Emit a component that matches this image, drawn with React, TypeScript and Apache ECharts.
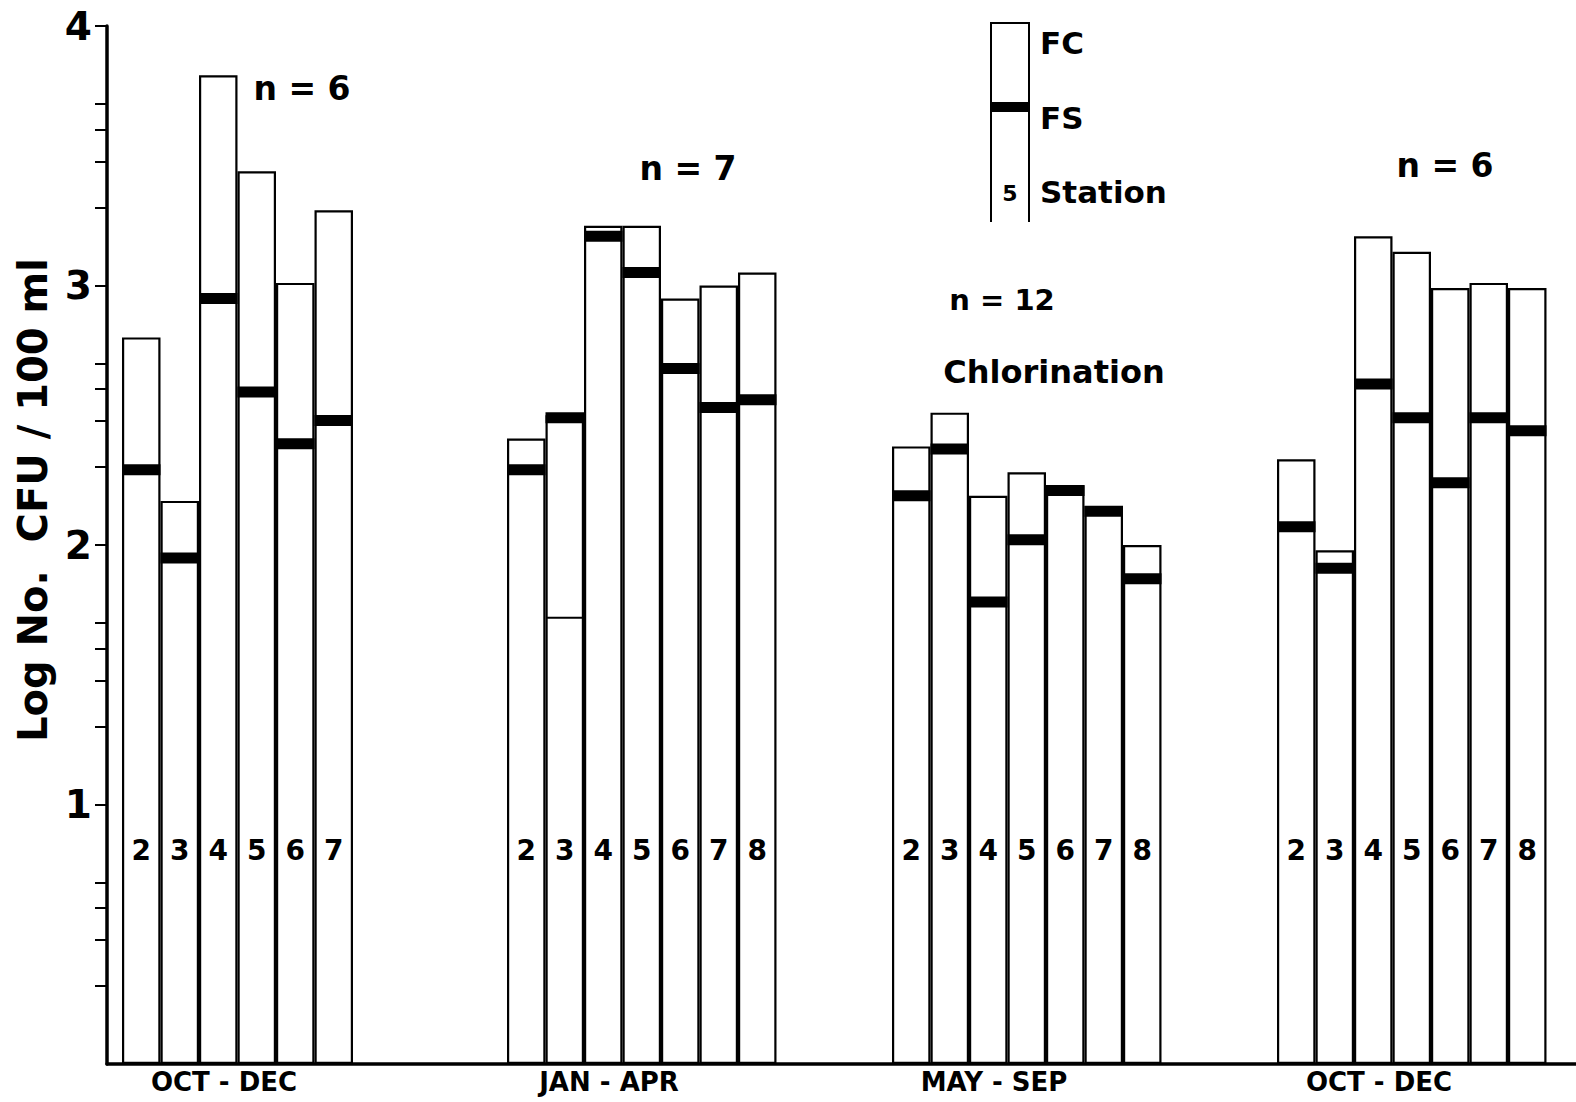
import React, { useEffect, useRef } from "react";
import * as echarts from "echarts";

// ---- data ----
const seasons = ["OCT - DEC", "JAN - APR", "MAY - SEP", "OCT - DEC"];
const stations = [
  ["2", "3", "4", "5", "6", "7"],
  ["2", "3", "4", "5", "6", "7", "8"],
  ["2", "3", "4", "5", "6", "7", "8"],
  ["2", "3", "4", "5", "6", "7", "8"],
];
// log10 FC (top of bar)
const fcValues = [
  [2.8, 2.17, 3.81, 3.44, 3.01, 3.29],
  [2.41, 2.5, 3.23, 3.23, 2.95, 3.0, 3.05],
  [2.38, 2.51, 2.19, 2.28, 2.23, 2.15, 2.0],
  [2.33, 1.98, 3.19, 3.13, 2.99, 3.01, 2.99],
];
// log10 FS (thick black line)
const fsValues = [
  [2.29, 1.95, 2.95, 2.59, 2.39, 2.48],
  [2.29, 2.49, 3.19, 3.05, 2.68, 2.53, 2.56],
  [2.19, 2.37, 1.78, 2.02, 2.21, 2.13, 1.87],
  [2.07, 1.91, 2.62, 2.49, 2.24, 2.49, 2.44],
];
// extra thin mark (season index, station, value)
const thinMarks: [number, string, number][] = [[1, "3", 1.72]];
const yTickLabels = [1, 2, 3, 4];
const minorFactors = [2, 3, 4, 5];
const nLabels = ["n = 6", "n = 7", "n = 12", "n = 6"];

const SLOTS_PER_GROUP = 10;
const FIRST_STATION = 2;
const FONT = "DejaVu Sans";

function slotX(g: number, st: string) {
  return g * SLOTS_PER_GROUP + (parseInt(st, 10) - FIRST_STATION) + 0.5;
}

export default function App() {
  const ref = useRef<HTMLDivElement>(null);
  useEffect(() => {
    if (!ref.current) return;
    const chart = echarts.init(ref.current, null, { renderer: "svg" });

    const barData: any[] = [];
    const fsData: any[] = [];
    seasons.forEach((_, g) => {
      stations[g].forEach((st, i) => {
        barData.push([slotX(g, st), fcValues[g][i], st]);
        fsData.push([slotX(g, st), fsValues[g][i]]);
      });
    });
    const thinData = thinMarks.map(([g, st, v]) => [slotX(g, st), v]);

    const tickValues: number[] = [];
    for (let d = 0; d < 4; d++) {
      minorFactors.forEach((f) => tickValues.push(d + Math.log10(f)));
      tickValues.push(d + 1);
    }
    const seasonPos = seasons.map((_, g) => g * SLOTS_PER_GROUP + 2.65);

    const slotPx = 38.5;
    const gridLeft = 107;
    const gridW = 1576 - gridLeft;
    const xMin = -(122 - gridLeft) / slotPx;
    const xMax = xMin + gridW / slotPx;

    chart.setOption({
      animation: false,
      backgroundColor: "#ffffff",
      grid: { left: gridLeft, right: 0, top: 26, bottom: 38, containLabel: false },
      xAxis: {
        type: "value",
        min: xMin,
        max: xMax,
        splitLine: { show: false },
        axisLine: { show: true, onZero: false, lineStyle: { color: "#000", width: 3.5 } },
        axisTick: { show: false },
        axisLabel: {
          customValues: seasonPos,
          formatter: (v: number) => {
            let best = 0;
            seasonPos.forEach((p, i) => {
              if (Math.abs(p - v) < Math.abs(seasonPos[best] - v)) best = i;
            });
            return seasons[best];
          },
          color: "#000",
          fontFamily: FONT,
          fontWeight: "bold",
          fontSize: 26,
          margin: 5,
        },
      },
      yAxis: {
        type: "value",
        min: 0,
        max: 4,
        interval: 1,
        splitLine: { show: false },
        axisLine: { show: true, onZero: false, lineStyle: { color: "#000", width: 3.5 } },
        axisTick: {
          show: true,
          customValues: tickValues,
          length: 12,
          lineStyle: { color: "#000", width: 2 },
        },
        axisLabel: {
          customValues: yTickLabels,
          color: "#000",
          fontFamily: FONT,
          fontWeight: "bold",
          fontSize: 39,
          margin: 15,
        },
      },
      series: [
        {
          type: "bar",
          data: barData,
          encode: { x: 0, y: 1 },
          barWidth: slotPx,
          itemStyle: { color: "#fff", borderColor: "#000", borderWidth: 2.2 },
          label: {
            show: true,
            position: "insideBottom",
            distance: 200,
            formatter: (p: any) => p.value[2],
            color: "#000",
            fontFamily: FONT,
            fontWeight: "bold",
            fontSize: 28,
          },
          z: 2,
        },
        {
          type: "scatter",
          data: fsData,
          symbol: "rect",
          symbolSize: [slotPx, 11],
          itemStyle: { color: "#000", opacity: 1 },
          z: 3,
        },
        {
          type: "scatter",
          data: thinData,
          symbol: "rect",
          symbolSize: [slotPx - 2, 2],
          itemStyle: { color: "#000", opacity: 1 },
          z: 3,
        },
      ],
      graphic: [
        {
          type: "text",
          x: 33,
          y: 500,
          rotation: Math.PI / 2,
          style: {
            text: "Log No.  CFU / 100 ml",
            fontFamily: FONT,
            fontWeight: "bold",
            fontSize: 40,
            fill: "#000",
            align: "center",
            verticalAlign: "middle",
          },
        },
        ...[
          [302, 88, 33],
          [688, 168, 33],
          [1002, 300, 29],
          [1445, 165, 33],
        ].map(([x, y, fs], i) => ({
          type: "text",
          x,
          y,
          style: {
            text: nLabels[i],
            fontFamily: FONT,
            fontWeight: "bold",
            fontSize: fs,
            fill: "#000",
            align: "center",
            verticalAlign: "middle",
          },
        })),
        {
          type: "text",
          x: 1054,
          y: 372,
          style: {
            text: "Chlorination",
            fontFamily: FONT,
            fontWeight: "bold",
            fontSize: 32,
            fill: "#000",
            align: "center",
            verticalAlign: "middle",
          },
        },
        // legend key
        {
          type: "polyline",
          shape: { points: [[991, 222], [991, 23], [1029, 23], [1029, 222]] },
          style: { stroke: "#000", lineWidth: 2, fill: null },
        },
        {
          type: "rect",
          shape: { x: 990, y: 102, width: 40, height: 10 },
          style: { fill: "#000" },
        },
        ...[
          ["FC", 43],
          ["FS", 118],
          ["Station", 192],
        ].map(([t, y]) => ({
          type: "text",
          x: 1040,
          y: y as number,
          style: {
            text: t as string,
            fontFamily: FONT,
            fontWeight: "bold",
            fontSize: 31,
            fill: "#000",
            align: "left",
            verticalAlign: "middle",
          },
        })),
        {
          type: "text",
          x: 1010,
          y: 193,
          style: {
            text: "5",
            fontFamily: FONT,
            fontWeight: "bold",
            fontSize: 22,
            fill: "#000",
            align: "center",
            verticalAlign: "middle",
          },
        },
      ],
    });
    return () => chart.dispose();
  }, []);
  return (
    <div
      ref={ref}
      style={{ position: "absolute", left: 0, top: 0, width: 1576, height: 1102, background: "#fff" }}
    />
  );
}
